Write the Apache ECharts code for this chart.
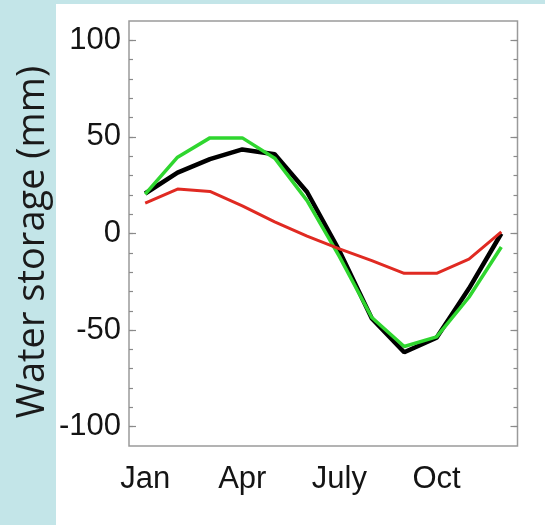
<!DOCTYPE html>
<html>
<head>
<meta charset="utf-8">
<script src="https://cdn.jsdelivr.net/npm/echarts@6/dist/echarts.min.js"></script>
<style>
  html, body { margin: 0; padding: 0; }
  body { width: 545px; height: 525px; background: #c3e5e8; position: relative; overflow: hidden; }
  #panel { position: absolute; left: 56px; top: 4px; width: 489px; height: 521px; background: #ffffff; }
  #chart { position: absolute; left: 0; top: 0; width: 545px; height: 525px; }
</style>
</head>
<body>
<div id="panel"></div>
<div id="chart"></div>
<script>
// Monthly categories (only every third one gets a label)
const months = ['Jan', 'Feb', 'Mar', 'Apr', 'May', 'Jun', 'July', 'Aug', 'Sep', 'Oct', 'Nov', 'Dec'];

// Seasonal water storage anomalies, mm
const blackSeries = [20.7, 31.5, 38.5, 43.5, 41, 21.5, -9, -44, -61.5, -54, -28.5, 0];
const greenSeries = [20.4, 39.5, 49.5, 49.5, 39, 17, -12, -43.5, -58.5, -53.5, -33, -7];
const redSeries   = [15.7, 23, 21.8, 14.3, 6, -1.4, -8, -14, -20.6, -20.6, -13.3, 0.8];

// Y axis: labelled values and tick positions
const yLabels = [-100, -50, 0, 50, 100];
const yMinorTicks = [-100, -90, -80, -70, -60, -50, -40, -30, -20, -10, 0, 10, 20, 30, 40, 50, 60, 70, 80, 90, 100];

const chart = echarts.init(document.getElementById('chart'), null, { renderer: 'canvas' });

const labelFont = { fontFamily: 'Liberation Sans', fontSize: 31, color: '#141414' };
const tickColor = '#8a8a8a';

function yAxisDef(position, showLabels, tickValues, tickLen) {
  return {
    type: 'value',
    position: position,
    min: -110,
    max: 110,
    axisLine: { show: false },
    splitLine: { show: false },
    axisTick: {
      show: true,
      inside: true,
      length: tickLen,
      customValues: tickValues,
      lineStyle: { color: tickColor, width: 1.2 }
    },
    axisLabel: showLabels ? Object.assign({
      show: true,
      margin: 8,
      customValues: yLabels
    }, labelFont) : { show: false }
  };
}

chart.setOption({
  backgroundColor: 'transparent',
  animation: false,
  grid: {
    left: 129,
    right: 27.5,
    top: 21,
    bottom: 79,
    show: true,
    borderColor: '#9a9a9a',
    borderWidth: 1.5,
    backgroundColor: 'transparent'
  },
  xAxis: {
    type: 'category',
    data: months,
    boundaryGap: true,
    axisLine: { show: false },
    axisTick: { show: false },
    splitLine: { show: false },
    axisLabel: Object.assign({ interval: 2, margin: 18 }, labelFont)
  },
  yAxis: [
    yAxisDef('left', true, yMinorTicks, 4),
    yAxisDef('left', false, yLabels, 7),
    yAxisDef('right', false, yMinorTicks, 4),
    yAxisDef('right', false, yLabels, 7)
  ],
  graphic: [{
    type: 'text',
    x: 33,
    y: 242,
    rotation: Math.PI / 2,
    style: {
      text: 'Water storage (mm)',
      fontFamily: 'Open Sans',
      fontSize: 38,
      fill: '#1a1a1a',
      align: 'center',
      verticalAlign: 'middle'
    }
  }],
  series: [
    {
      name: 'black',
      type: 'line',
      data: blackSeries,
      symbol: 'none',
      lineStyle: { color: '#000000', width: 4.5 },
      z: 2
    },
    {
      name: 'green',
      type: 'line',
      data: greenSeries,
      symbol: 'none',
      lineStyle: { color: '#2fd62f', width: 3.5 },
      z: 3
    },
    {
      name: 'red',
      type: 'line',
      data: redSeries,
      symbol: 'none',
      lineStyle: { color: '#e02a22', width: 3 },
      z: 4
    }
  ]
});
</script>
</body>
</html>
